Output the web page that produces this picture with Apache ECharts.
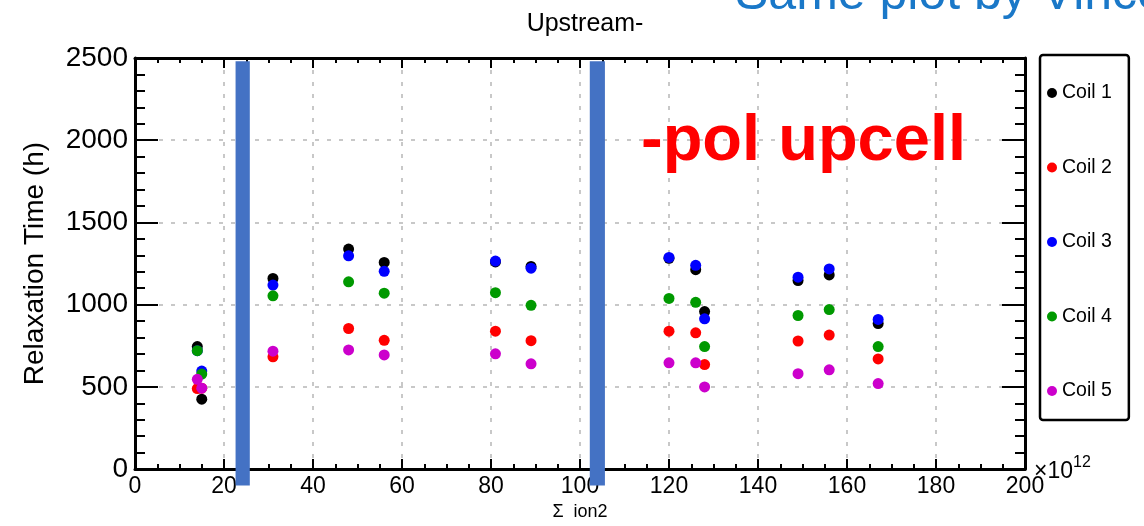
<!DOCTYPE html>
<html>
<head>
<meta charset="utf-8">
<script src="https://cdn.jsdelivr.net/npm/echarts@6/dist/echarts.min.js"></script>
<style>html,body{margin:0;padding:0;background:#fff;}#c{width:1144px;height:526px;}</style>
</head>
<body>
<div id="c"></div>
<script>
// Data (x in units of 1e12, y in hours)
const coilNames = ['Coil 1', 'Coil 2', 'Coil 3', 'Coil 4', 'Coil 5'];
const coilColors = ['#000000', '#ff0000', '#0000ff', '#009900', '#cc00cc'];
const xValues = [14, 15, 31, 48, 56, 81, 89, 120, 126, 128, 149, 156, 167];
const coil1 = [745, 425, 1159, 1338, 1257, 1260, 1232, 1282, 1213, 958, 1147, 1181, 885];
const coil2 = [490, 492, 683, 855, 783, 839, 781, 839, 829, 636, 779, 815, 670];
const coil3 = [720, 596, 1119, 1297, 1203, 1265, 1222, 1287, 1239, 914, 1167, 1217, 910];
const coil4 = [720, 578, 1054, 1139, 1070, 1073, 996, 1038, 1014, 745, 934, 970, 745];
const coil5 = [546, 492, 717, 725, 694, 701, 640, 646, 646, 500, 580, 604, 520];
const coilValues = [coil1, coil2, coil3, coil4, coil5];
// Vertical separator bands: [xStart, xEnd, yBottom, yTop]
const bands = [[22.6, 25.8, -100, 2480], [102.2, 105.6, -100, 2480]];
const xTicks = {min: 0, max: 200, interval: 20};
const yTicks = {min: 0, max: 2500, interval: 500};

const FONT = '"Liberation Sans", Arial, Helvetica, sans-serif';
const chart = echarts.init(document.getElementById('c'), null, {renderer: 'canvas'});

const splitLine = {show: true, lineStyle: {color: '#c8c8c8', width: 2, type: [4, 8]}};
const axisLine = {show: true, onZero: false, lineStyle: {color: '#000', width: 3}};
const plain = function (v) { return String(v); };

function xAxisDef(pos, labels) {
  return {
    type: 'value', position: pos, min: xTicks.min, max: xTicks.max, interval: xTicks.interval,
    axisLine: axisLine,
    axisTick: {show: true, inside: true, length: 10, lineStyle: {color: '#000', width: 2}},
    minorTick: {show: true, splitNumber: 4, length: 5, lineStyle: {color: '#000', width: 2}},
    axisLabel: {show: labels, margin: 6, color: '#000', fontSize: 23, fontFamily: FONT, formatter: plain},
    splitLine: labels ? splitLine : {show: false},
    name: labels ? 'Σ  ion2' : '', nameLocation: 'middle', nameGap: 27,
    nameTextStyle: {color: '#000', fontSize: 18, fontFamily: FONT}
  };
}
function yAxisDef(pos, labels) {
  return {
    type: 'value', position: pos, min: yTicks.min, max: yTicks.max, interval: yTicks.interval,
    axisLine: axisLine,
    axisTick: {show: true, inside: true, length: 23, lineStyle: {color: '#000', width: 2}},
    minorTick: {show: true, splitNumber: 5, length: 10, lineStyle: {color: '#000', width: 2}},
    axisLabel: {show: labels, margin: 7, color: '#000', fontSize: 28, fontFamily: FONT, formatter: plain},
    splitLine: labels ? splitLine : {show: false},
    name: labels ? 'Relaxation Time (h)' : '', nameLocation: 'middle', nameGap: 86,
    nameTextStyle: {color: '#000', fontSize: 28, fontFamily: FONT}
  };
}

const series = [{
  type: 'custom',
  name: 'bands',
  clip: false,
  z: 5,
  encode: {x: [0, 1], y: [2, 3]},
  data: bands,
  renderItem: function (params, api) {
    const p0 = api.coord([api.value(0), api.value(3)]);
    const p1 = api.coord([api.value(1), api.value(2)]);
    return {type: 'rect', shape: {x: p0[0], y: p0[1], width: p1[0] - p0[0], height: p1[1] - p0[1]},
      style: {fill: '#4472c4'}};
  }
}];
coilNames.forEach(function (n, i) {
  series.push({
    type: 'scatter', name: n, symbol: 'circle', symbolSize: 11, z: 6,
    itemStyle: {color: coilColors[i], opacity: 1},
    data: xValues.map(function (x, j) { return [x, coilValues[i][j]]; })
  });
});

chart.setOption({
  animation: false,
  backgroundColor: '#fff',
  textStyle: {fontFamily: FONT},
  title: {text: 'Upstream-', left: 580, top: 7, textAlign: 'center',
    textStyle: {color: '#000', fontSize: 25, fontWeight: 'normal', fontFamily: FONT}},
  grid: {left: 135, right: 119, top: 58, bottom: 50, containLabel: false},
  xAxis: [xAxisDef('bottom', true), xAxisDef('top', false)],
  yAxis: [yAxisDef('left', true), yAxisDef('right', false)],
  legend: {
    data: coilNames, orient: 'vertical', left: 1040, top: 55,
    icon: 'circle', itemWidth: 10, itemHeight: 10, itemGap: 54.5,
    padding: [28, 17, 19, 7],
    borderColor: '#000', borderWidth: 2.5, borderRadius: 3,
    textStyle: {color: '#000', fontSize: 19.5, lineHeight: 18, fontFamily: FONT}
  },
  graphic: [
    {type: 'text', left: 641, top: 110, z: 20,
      style: {text: '-pol upcell', fill: '#ff0000', font: 'bold 65px ' + FONT}},
    {type: 'text', left: 735, top: -30, z: 20,
      style: {text: 'Same plot by Vince', fill: '#1a78c8', font: '50px ' + FONT}},
    {type: 'text', left: 1034, top: 455, z: 20,
      style: {text: '{a|×10}{b|12}', rich: {
        a: {fontSize: 23, fontFamily: FONT, fill: '#000', verticalAlign: 'bottom'},
        b: {fontSize: 16, fontFamily: FONT, fill: '#000', verticalAlign: 'top', padding: [0, 0, 12, 0]}
      }}}
  ],
  series: series
});
</script>
</body>
</html>
